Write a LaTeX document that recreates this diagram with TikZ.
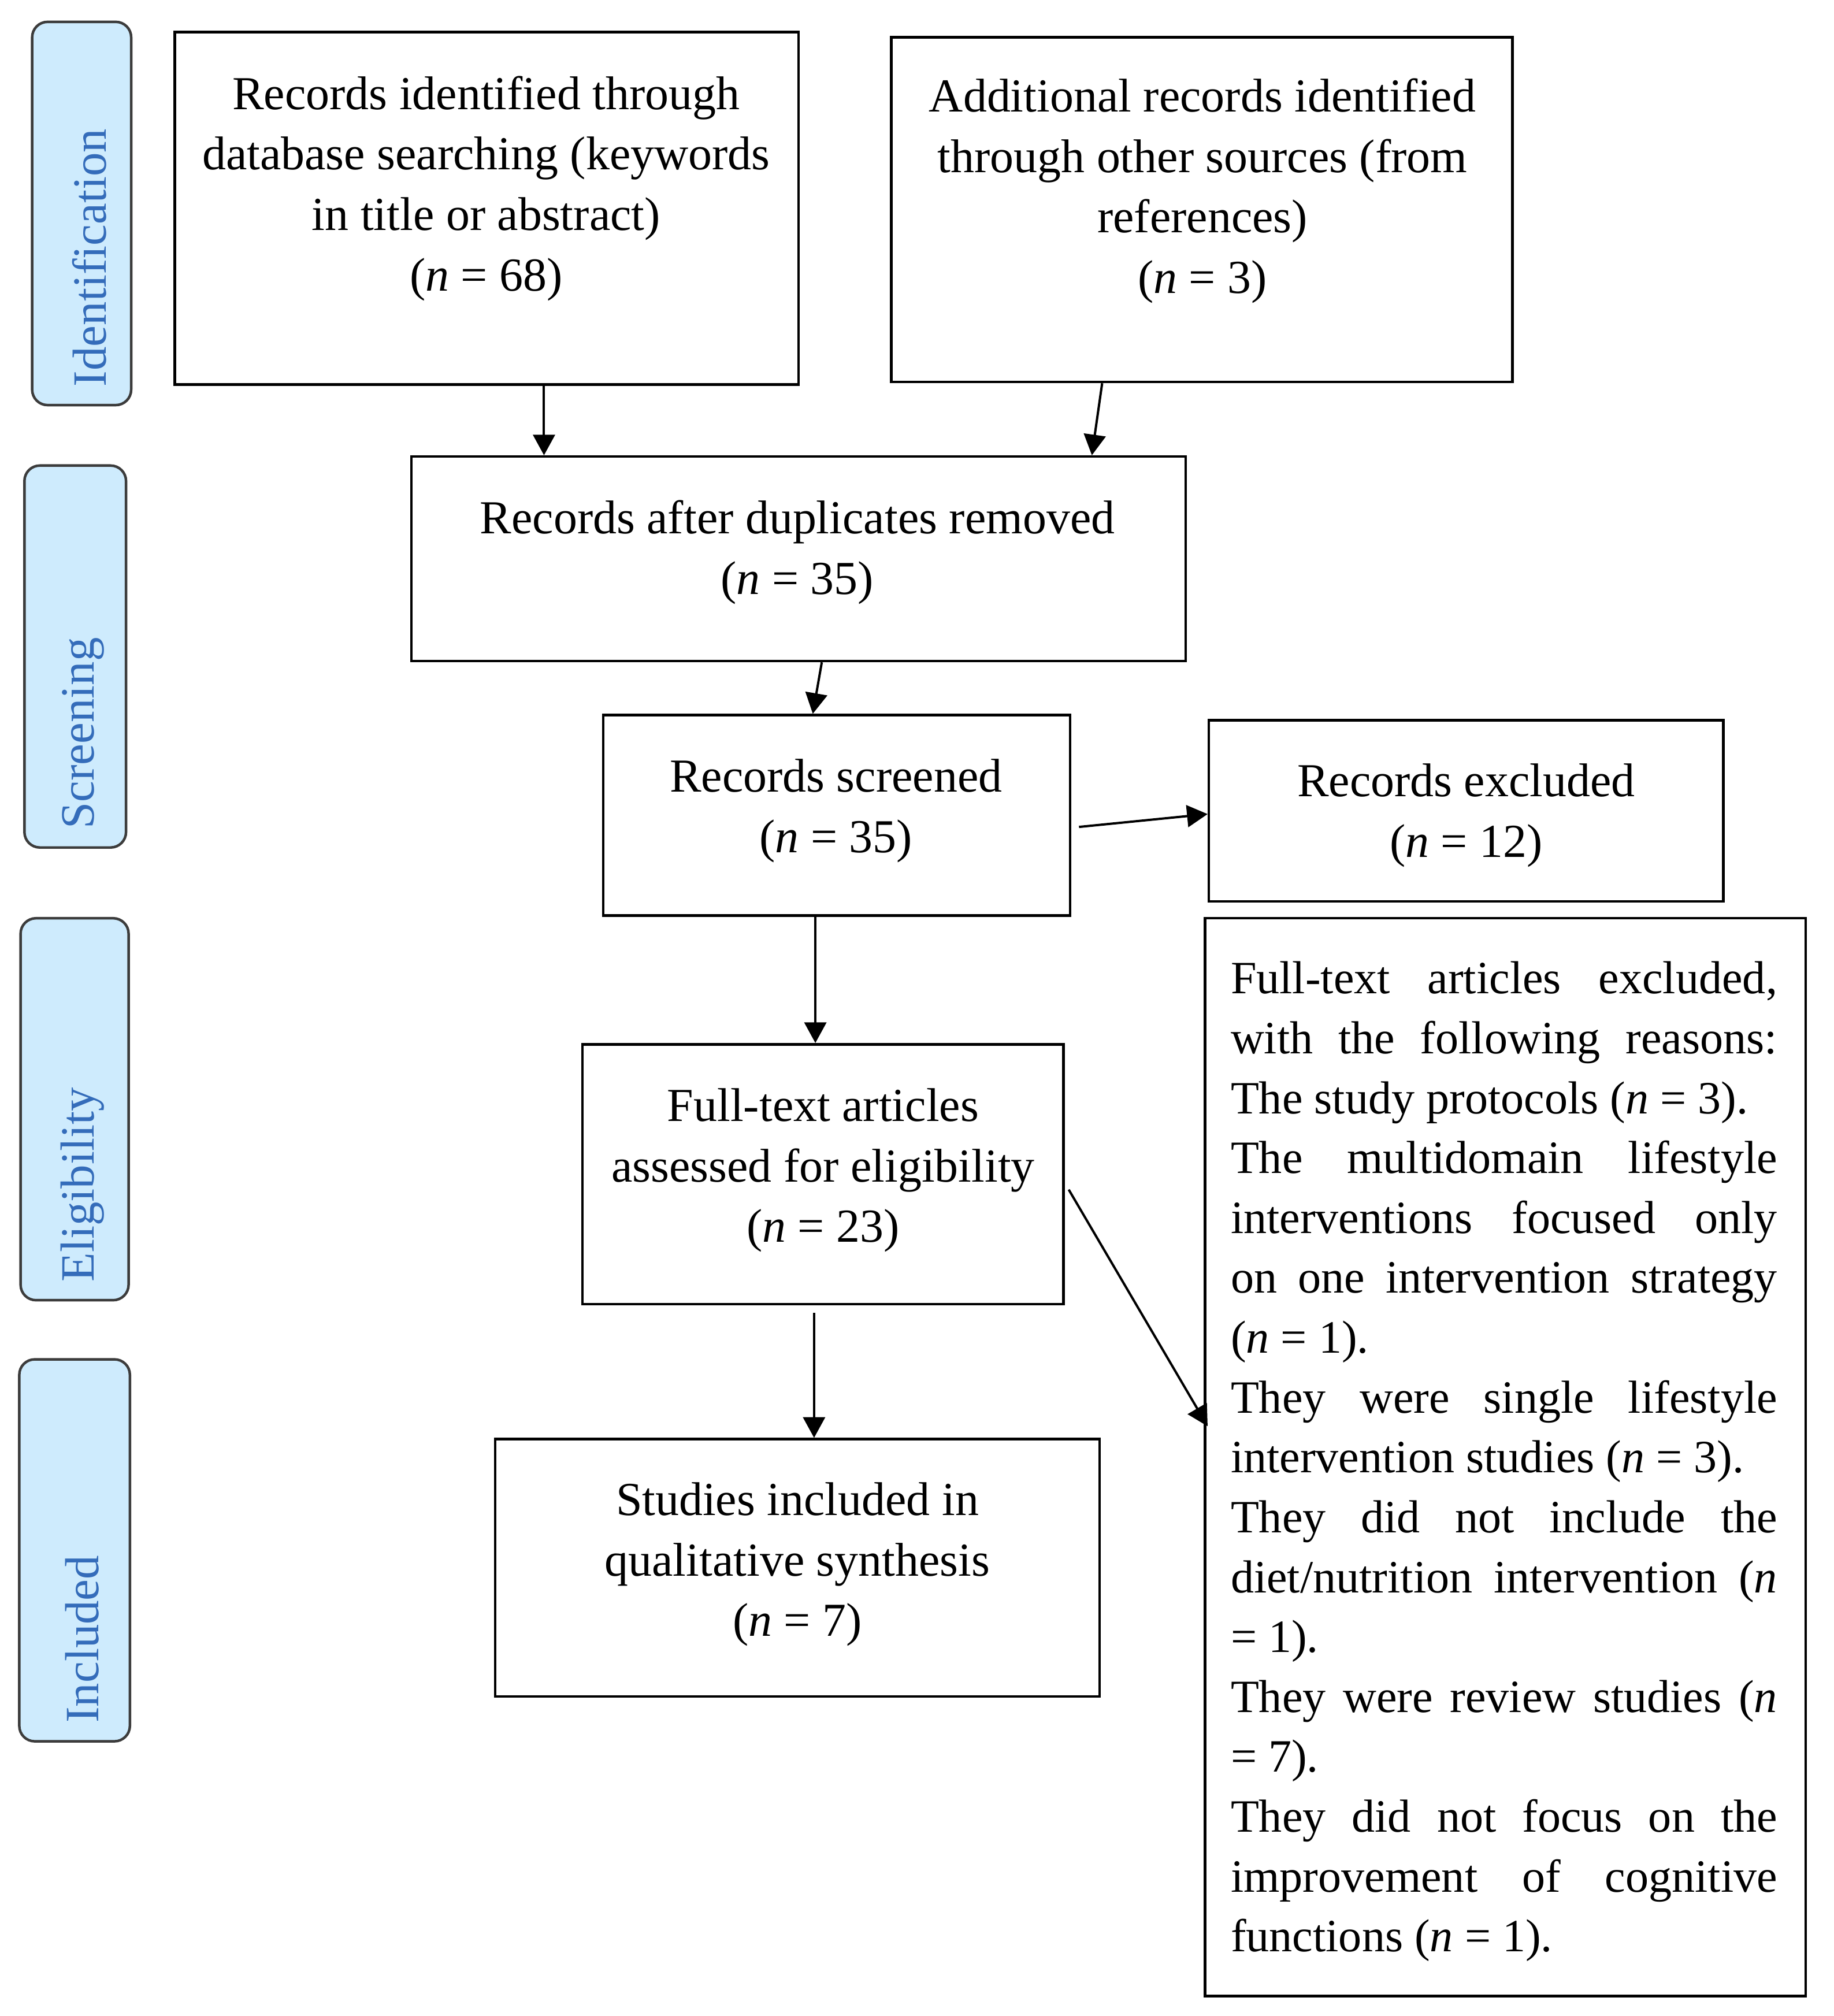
\documentclass[tikz,border=0pt]{standalone}
\usepackage{fontspec}
\setmainfont{Liberation Serif}
\usetikzlibrary{arrows.meta,calc,fit}
\definecolor{lblfill}{RGB}{206,235,253}
\definecolor{lbltext}{RGB}{52,108,186}
\definecolor{lbldraw}{RGB}{60,60,60}
\newcommand{\ns}{\spaceskip=0pt\xspaceskip=0pt\relax}
\newcommand{\jline}[1]{{\spaceskip=0.25em plus 3em\relax\makebox[212.5pt][s]{#1}}}
\begin{document}
\begin{tikzpicture}[x=0.5pt,y=-0.5pt,
  box/.style={draw=black, line width=1pt, inner sep=0pt},
  txt/.style={align=center, font=\fontsize{18.4}{23.5}\selectfont, inner sep=0pt},
  htxt/.style={align=justify, font=\fontsize{18}{23.28}\selectfont, inner sep=0pt, text width=212.5pt},
  phase/.style={draw=lbldraw, fill=lblfill, rounded corners=6pt, line width=1pt, inner sep=0pt},
  phasetxt/.style={rotate=90, anchor=west, text=lbltext, font=\fontsize{18.6}{20}\selectfont, inner sep=0pt},
  arr/.style={-{Triangle[length=8pt,width=8.5pt]}, line width=0.9pt}
]
\useasboundingbox (0,0) rectangle (1426,1567.6);

% phase labels
\node[phase, fit={(25,17)(102,315)}] (P1) {};
\node[phase, fit={(19,362)(98,659)}] (P2) {};
\node[phase, fit={(16,714)(100,1011)}] (P3) {};
\node[phase, fit={(15,1057)(101,1354)}] (P4) {};
\node[phasetxt] (P1t) at ($(P1.south)+(6,-15)$) {Identification};
\node[phasetxt] (P2t) at ($(P2.south)+(6,-15)$) {Screening};
\node[phasetxt] (P3t) at ($(P3.south)+(6,-15)$) {Eligibility};
\node[phasetxt] (P4t) at ($(P4.south)+(6,-15)$) {Included};

% boxes
\node[box, fit={(136,25)(621,299)}] (A) {};
\node[box, fit={(693,29)(1176,297)}] (B) {};
\node[box, fit={(320,355)(922,514)}] (C) {};
\node[box, fit={(469,556)(832,712)}] (D) {};
\node[box, fit={(940,560)(1340,701)}] (E) {};
\node[box, fit={(453,812)(827,1014)}] (F) {};
\node[box, fit={(385,1119)(855,1319)}] (G) {};
\node[box, fit={(937,714)(1404,1552)}] (H) {};

% texts
\node[txt] (At) at (378,146.5) {\ns Records identified through\\database searching (keywords\\in title or abstract)\\(\textit{n} = 68)};
\node[txt] (Bt) at (935,148.5) {\ns Additional records identified\\through other sources (from\\references)\\(\textit{n} = 3)};
\node[txt] (Ct) at (620,429.5) {\ns Records after duplicates removed\\(\textit{n} = 35)};
\node[txt] (Dt) at (650,630.5) {\ns Records screened\\(\textit{n} = 35)};
\node[txt] (Et) at (1140,634) {\ns Records excluded\\(\textit{n} = 12)};
\node[txt] (Ft) at (640,910) {\ns Full-text articles\\assessed for eligibility\\(\textit{n} = 23)};
\node[txt] (Gt) at (620,1216.5) {\ns Studies included in\\qualitative synthesis\\(\textit{n} = 7)};
\node[htxt] (Ht) at (1169.5,1136.5) {\ns
\jline{Full-text articles excluded,}\\
\jline{with the following reasons:}\\
The study protocols (\textit{n} = 3).\\
\jline{The multidomain lifestyle}\\
\jline{interventions focused only}\\
\jline{on one intervention strategy}\\
(\textit{n} = 1).\\
\jline{They were single lifestyle}\\
intervention studies (\textit{n} = 3).\\
\jline{They did not include the}\\
\jline{diet/nutrition intervention (\textit{n}}\\
= 1).\\
\jline{They were review studies (\textit{n}}\\
= 7).\\
\jline{They did not focus on the}\\
\jline{improvement of cognitive}\\
functions (\textit{n} = 1).};

% arrows
\draw[arr] ($(A.south west)+(288,0)$) -- ($(C.north west)+(104,0)$);
\draw[arr] ($(B.south west)+(165,0)$) -- ($(C.north west)+(530,0)$);
\draw[arr] ($(C.south west)+(320,0)$) -- ($(D.north west)+(164,0)$);
\draw[arr] ($(D.east)+(6,9)$) -- ($(E.west)+(0,2.5)$);
\draw[arr] ($(D.south west)+(166,0)$) -- ($(F.north west)+(182,0)$);
\draw[arr] ($(F.south west)+(181,6)$) -- ($(G.north west)+(249,0)$);
\draw[arr] ($(F.south east)+(3,-90)$) -- ($(H.north west)+(3,396)$);
\end{tikzpicture}
\end{document}
